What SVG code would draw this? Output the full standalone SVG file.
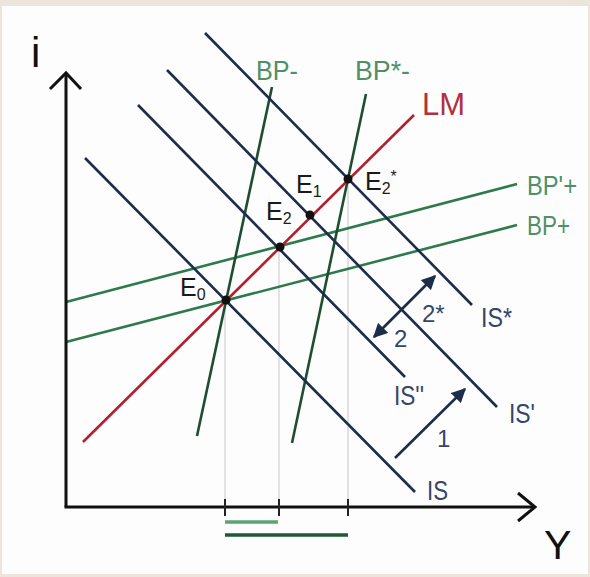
<svg xmlns="http://www.w3.org/2000/svg" width="590" height="577" viewBox="0 0 590 577">
<style>
text{font-family:"Liberation Sans","Open Sans",sans-serif}
.is{stroke:#1c2d4c;stroke-width:2.6;fill:none}
.lm{stroke:#b2202f;stroke-width:2.6;fill:none}
.bps{stroke:#1f4d31;stroke-width:2.6;fill:none}
.bpf{stroke:#2f7a4d;stroke-width:2.6;fill:none}
.ax{stroke:#111;stroke-width:3;fill:none}
.guide{stroke:#e2e2e2;stroke-width:2;fill:none}
.tick{stroke:#222;stroke-width:2}
.isl{fill:#33466a;font-size:27px}
.bpl{fill:#4f9065;font-size:27px}
.el{fill:#1a1a1a;font-size:25px}
.num{fill:#33466a;font-size:24px}
.dot{fill:#111}
</style>
<defs>
<marker id="ah" viewBox="0 0 10 10" refX="9" refY="5" markerWidth="5.5" markerHeight="5.5" orient="auto-start-reverse" markerUnits="strokeWidth">
<path d="M0,0 L10,5 L0,10 z" fill="#1c2d4c"/>
</marker>
</defs>
<rect x="0" y="0" width="590" height="577" fill="#ebe5db"/>
<rect x="2" y="6" width="586" height="568" fill="#fdfdfd"/>

<g id="guides">
<line class="guide" x1="225" y1="300" x2="225" y2="507"/>
<line class="guide" x1="279" y1="247" x2="279" y2="507"/>
<line class="guide" x1="348" y1="179" x2="348" y2="507"/>
</g>

<g id="connectors">
<line class="bpf" x1="66" y1="302" x2="517" y2="184"/>
<line class="bpf" x1="66" y1="342" x2="517" y2="225"/>
<line class="bps" x1="272" y1="87" x2="197" y2="436"/>
<line class="bps" x1="366" y1="94" x2="292" y2="443"/>
<line class="is" x1="205" y1="33" x2="472" y2="305"/>
<line class="is" x1="167" y1="70" x2="497" y2="407"/>
<line class="is" x1="138" y1="105" x2="405" y2="377"/>
<line class="is" x1="85" y1="158" x2="415" y2="492"/>
<line class="lm" x1="83" y1="442" x2="414" y2="115"/>
<line class="is" stroke-width="2.2" x1="395" y1="458" x2="465" y2="389" marker-end="url(#ah)"/>
<line class="is" stroke-width="2.2" x1="374" y1="337" x2="435" y2="276" marker-start="url(#ah)" marker-end="url(#ah)"/>
</g>

<g id="axes">
<line class="ax" x1="66" y1="507" x2="66" y2="74"/>
<polyline class="ax" points="50,89 66,73 81,89"/>
<line class="ax" x1="64.5" y1="507" x2="534" y2="507"/>
<polyline class="ax" points="518,493 535,507 518,521"/>
<line class="tick" x1="225" y1="499" x2="225" y2="516"/>
<line class="tick" x1="279" y1="499" x2="279" y2="516"/>
<line class="tick" x1="348" y1="499" x2="348" y2="516"/>
<line x1="225" y1="522" x2="278" y2="522" stroke="#5da373" stroke-width="3.5"/>
<line x1="225" y1="535" x2="348" y2="535" stroke="#1e5a35" stroke-width="3.5"/>
<text x="31" y="67" font-size="42" fill="#111">i</text>
<text x="544" y="559" font-size="41" fill="#111">Y</text>
</g>

<g id="E0"><circle class="dot" cx="226" cy="300" r="4.5"/><text class="el" x="180" y="296">E<tspan font-size="16" dy="4">0</tspan></text></g>
<g id="E1"><circle class="dot" cx="310" cy="215" r="4.5"/><text class="el" x="296" y="193">E<tspan font-size="16" dy="4">1</tspan></text></g>
<g id="E2"><circle class="dot" cx="280" cy="247" r="4.5"/><text class="el" x="266" y="220">E<tspan font-size="16" dy="4">2</tspan></text></g>
<g id="E2s"><circle class="dot" cx="348" cy="179" r="4.5"/><text class="el" x="365" y="190">E<tspan font-size="16" dy="4">2</tspan><tspan font-size="16" dy="-12">*</tspan></text></g>

<g id="IS"><text class="isl" x="427" y="500" textLength="21" lengthAdjust="spacingAndGlyphs">IS</text></g>
<g id="ISpp"><text class="isl" x="394" y="405" textLength="30" lengthAdjust="spacingAndGlyphs">IS''</text></g>
<g id="ISp"><text class="isl" x="509" y="423" textLength="26" lengthAdjust="spacingAndGlyphs">IS'</text></g>
<g id="ISs"><text class="isl" x="481" y="327" textLength="31" lengthAdjust="spacingAndGlyphs">IS*</text></g>
<g id="LM"><text x="422" y="115" font-size="31" fill="#b3303d">LM</text></g>
<g id="BPm"><text class="bpl" x="256" y="80" textLength="42" lengthAdjust="spacingAndGlyphs">BP-</text></g>
<g id="BPsm"><text class="bpl" x="355" y="80" textLength="55" lengthAdjust="spacingAndGlyphs">BP*-</text></g>
<g id="BPpp"><text class="bpl" x="527" y="195" textLength="50" lengthAdjust="spacingAndGlyphs">BP'+</text></g>
<g id="BPp"><text class="bpl" x="527" y="235" textLength="43" lengthAdjust="spacingAndGlyphs">BP+</text></g>
<g id="lab1"><text class="num" x="437" y="447">1</text></g>
<g id="lab2"><text class="num" x="394" y="347">2</text></g>
<g id="lab2s"><text class="num" x="422" y="322">2*</text></g>
</svg>
